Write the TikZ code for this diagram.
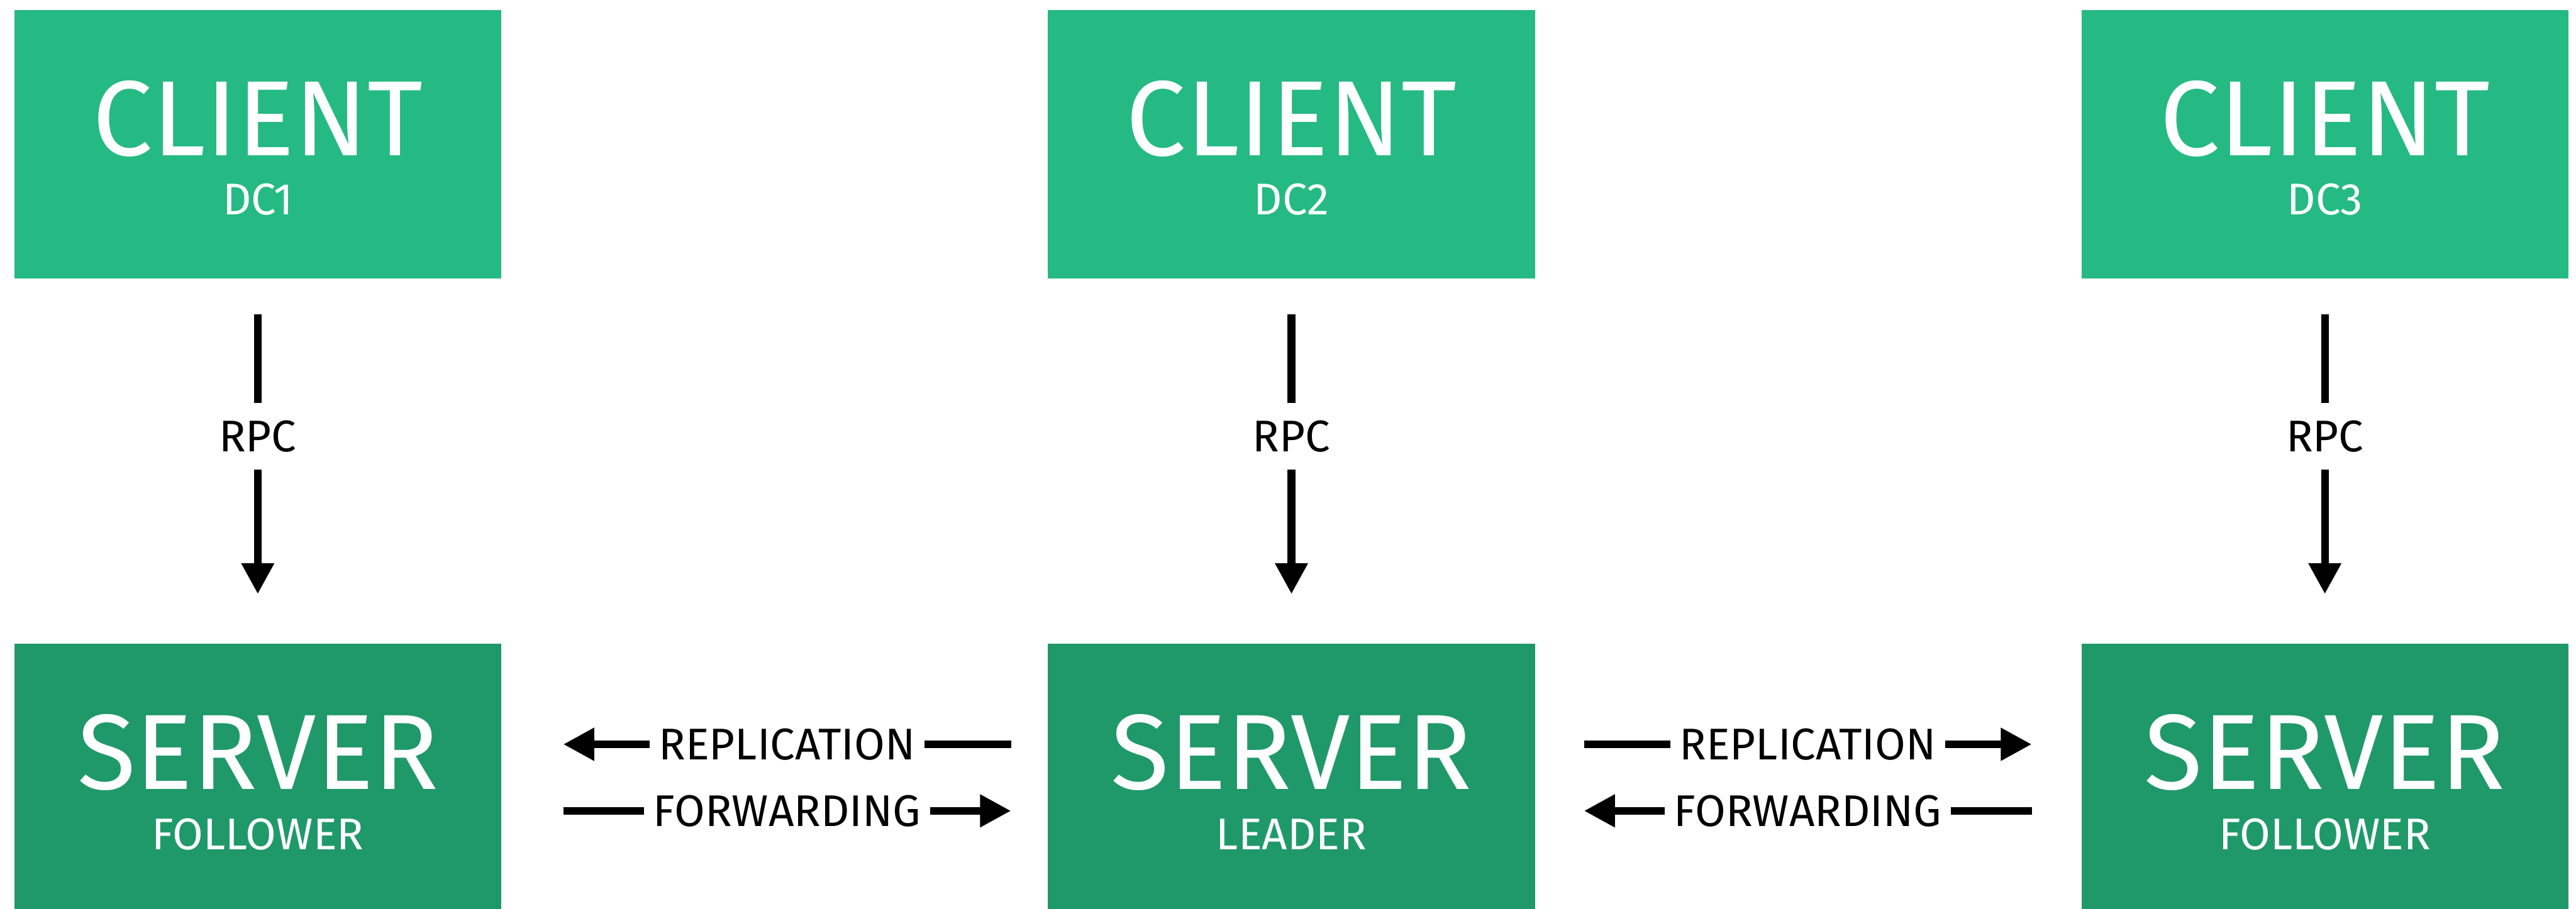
\documentclass[tikz,border=0pt]{standalone}
\usepackage{fontspec}
\setmainfont{Fira Sans}
\usetikzlibrary{arrows.meta}
\definecolor{clientgreen}{HTML}{25BA83}
\definecolor{servergreen}{HTML}{20996A}
\begin{document}
\begin{tikzpicture}[
	>={Triangle[width=0.54cm,length=0.54cm]},
	box/.style={minimum width=8.48cm, minimum height=4.67cm, inner sep=0pt},
	client/.style={box, fill=clientgreen},
	server/.style={box, fill=servergreen},
	bigname/.style={text=white, inner sep=0pt, font=\fontsize{53}{60}\selectfont},
	smallname/.style={text=white, inner sep=0pt, font=\fontsize{22}{26}\selectfont},
	link/.style={line width=0.135cm},
	tag/.style={fill=white, inner xsep=0.16cm, inner ysep=0.3cm, font=\fontsize{22}{26}\selectfont}
	]
	\useasboundingbox (0,0) rectangle (44.87,-15.83);
	% data centres, top row clients and bottom row servers
	\node[client] (c1) at (4.49,-2.515) {};
	\node[client] (c2) at (22.495,-2.515) {};
	\node[client] (c3) at (40.495,-2.515) {};
	\node[server] (s1) at (4.49,-13.555) {};
	\node[server] (s2) at (22.495,-13.555) {};
	\node[server] (s3) at (40.495,-13.555) {};
	
	\node[bigname] (c1name) at ([yshift=0.44cm]c1.center) {CLIENT};
	\node[bigname] (c2name) at ([yshift=0.44cm]c2.center) {CLIENT};
	\node[bigname] (c3name) at ([yshift=0.44cm]c3.center) {CLIENT};
	\node[smallname] (c1dc) at ([yshift=-0.96cm]c1.center) {DC1};
	\node[smallname] (c2dc) at ([yshift=-0.96cm]c2.center) {DC2};
	\node[smallname] (c3dc) at ([yshift=-0.96cm]c3.center) {DC3};
	
	\node[bigname] (s1name) at ([yshift=0.44cm]s1.center) {SERVER};
	\node[bigname] (s2name) at ([yshift=0.44cm]s2.center) {SERVER};
	\node[bigname] (s3name) at ([yshift=0.44cm]s3.center) {SERVER};
	\node[smallname] (s1role) at ([yshift=-0.98cm]s1.center) {FOLLOWER};
	\node[smallname] (s2role) at ([yshift=-0.98cm]s2.center) {LEADER};
	\node[smallname] (s3role) at ([yshift=-0.98cm]s3.center) {FOLLOWER};
	
	% rpc from every client down to its server
	\draw[link,->,shorten <=0.62cm,shorten >=0.86cm] (c1) -- node[tag,pos=0.432] (rpc1) {RPC} (s1);
	\draw[link,->,shorten <=0.62cm,shorten >=0.86cm] (c2) -- node[tag,pos=0.432] (rpc2) {RPC} (s2);
	\draw[link,->,shorten <=0.62cm,shorten >=0.86cm] (c3) -- node[tag,pos=0.432] (rpc3) {RPC} (s3);
	
	% ends of the links between the servers
	\path
	coordinate (l1) at (9.81,-12.97)
	coordinate (l2) at (17.61,-12.97)
	coordinate (l3) at (9.81,-14.13)
	coordinate (l4) at (17.61,-14.13)
	coordinate (r1) at (27.59,-12.97)
	coordinate (r2) at (35.39,-12.97)
	coordinate (r3) at (27.59,-14.13)
	coordinate (r4) at (35.39,-14.13)
	;
	\draw[link,<-] (l1) -- node[tag] (rep1) {REPLICATION} (l2);
	\draw[link,->] (l3) -- node[tag] (fwd1) {FORWARDING} (l4);
	\draw[link,->] (r1) -- node[tag] (rep2) {REPLICATION} (r2);
	\draw[link,<-] (r3) -- node[tag] (fwd2) {FORWARDING} (r4);
\end{tikzpicture}
\end{document}
